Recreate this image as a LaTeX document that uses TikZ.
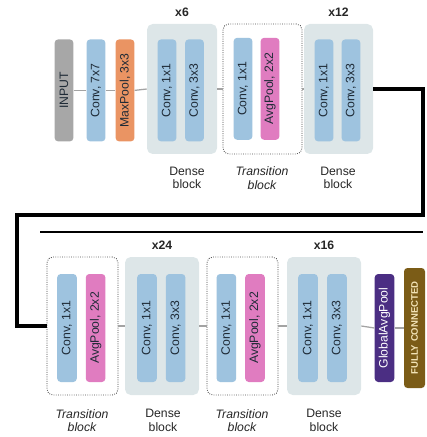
\documentclass[tikz,border=0pt]{standalone}
\usepackage{fontspec}
\setmainfont{Liberation Sans}
\usetikzlibrary{positioning}

\definecolor{convblue}{HTML}{9EC3DF}
\definecolor{inputgray}{HTML}{A7A7A7}
\definecolor{poolorange}{HTML}{EA9463}
\definecolor{avgpink}{HTML}{E07CC0}
\definecolor{densebg}{HTML}{DDE6E8}
\definecolor{gapurple}{HTML}{4B2E83}
\definecolor{fcolive}{HTML}{7B5C17}
\definecolor{fctext}{HTML}{F2E3B6}
\definecolor{labeldark}{HTML}{1E2A36}
\definecolor{linkgray}{HTML}{A3A3A3}

\begin{document}
\begin{tikzpicture}[
  font=\fontsize{8.7}{9.5}\selectfont,
  layer/.style={rounded corners=2.5pt,inner sep=0pt,minimum width=0.47cm,minimum height=2.55cm,text=labeldark},
  conv/.style={layer,fill=convblue},
  maxpool/.style={layer,fill=poolorange},
  avgpool/.style={layer,fill=avgpink},
  inputbox/.style={layer,fill=inputgray},
  denseblock/.style={fill=densebg,rounded corners=4pt,minimum width=1.75cm,minimum height=3.25cm},
  transblock/.style={draw=gray!60!black,densely dotted,line width=0.6pt,fill=white,rounded corners=4pt,minimum width=1.975cm,minimum height=3.25cm},
  repeat/.style={font=\fontsize{8.7}{9.5}\selectfont\bfseries,text=black!85},
  caption/.style={align=center,text=black!85},
  link/.style={draw=linkgray,line width=0.9pt},
  loopline/.style={draw=black,line width=2.2pt,line join=miter}
]
\useasboundingbox (0,0) rectangle (10.65,-10.925);

% first row
\node[inputbox] (input) at (1.6,-2.26) {\rotatebox{90}{INPUT}};
\node[conv] (conv7) at (2.4,-2.26) {\rotatebox{90}{Conv, 7x7}};
\node[maxpool] (maxp) at (3.125,-2.26) {\rotatebox{90}{MaxPool, 3x3}};

\node[denseblock] (dense6) at (4.55,-2.225) {};
\node[conv] at (4.175,-2.26) {\rotatebox{90}{Conv, 1x1}};
\node[conv] at (4.8625,-2.26) {\rotatebox{90}{Conv, 3x3}};

\node[transblock] (trans1) at (6.5625,-2.225) {};
\node[conv] at (6.075,-2.22) {\rotatebox{90}{Conv, 1x1}};
\node[avgpool] at (6.75,-2.22) {\rotatebox{90}{AvgPool, 2x2}};

\node[denseblock,minimum width=1.725cm] (dense12) at (8.4625,-2.225) {};
\node[conv] at (8.1,-2.26) {\rotatebox{90}{Conv, 1x1}};
\node[conv] at (8.775,-2.26) {\rotatebox{90}{Conv, 3x3}};

\node[repeat,above=0.05cm of dense6] (rep6) {x6};
\node[repeat,above=0.05cm of dense12] (rep12) {x12};
\node[caption] (cap1) at (4.675,-4.45) {Dense\\block};
\node[caption,font=\fontsize{8.7}{9.5}\selectfont\itshape] (cap2) at (6.55,-4.45) {Transition\\block};
\node[caption] (cap3) at (8.45,-4.45) {Dense\\block};

\foreach \a/\b in {input/conv7,conv7/maxp,maxp/dense6,dense6/trans1,trans1/dense12}
  \draw[link] (\a.east) -- (\b.west);

% second row
\begin{scope}[layer/.append style={minimum width=0.49cm,minimum height=2.7cm},
  denseblock/.append style={minimum width=1.85cm,minimum height=3.45cm},
  transblock/.append style={minimum width=1.775cm,minimum height=3.45cm}]
\node[transblock] (trans3) at (2.0625,-8.15) {};
\node[conv] at (1.675,-8.2) {\rotatebox{90}{Conv, 1x1}};
\node[avgpool] at (2.39,-8.2) {\rotatebox{90}{AvgPool, 2x2}};

\node[denseblock] (dense24) at (4.05,-8.15) {};
\node[conv] at (3.675,-8.2) {\rotatebox{90}{Conv, 1x1}};
\node[conv] at (4.39,-8.2) {\rotatebox{90}{Conv, 3x3}};

\node[transblock] (trans4) at (6.0625,-8.15) {};
\node[conv] at (5.66,-8.2) {\rotatebox{90}{Conv, 1x1}};
\node[avgpool] at (6.375,-8.2) {\rotatebox{90}{AvgPool, 2x2}};

\node[denseblock] (dense16) at (8.1,-8.15) {};
\node[conv] at (7.7,-8.2) {\rotatebox{90}{Conv, 1x1}};
\node[conv] at (8.425,-8.2) {\rotatebox{90}{Conv, 3x3}};

\node[layer,fill=gapurple,text=white] (gap) at (9.6125,-8.2) {\rotatebox{90}{GlobalAvgPool}};
\node[layer,fill=fcolive,text=fctext,minimum width=0.525cm,minimum height=3.0cm,
  font=\fontsize{6.8}{8}\selectfont\bfseries] (fc) at (10.3625,-8.2) {\rotatebox{90}{FULLY CONNECTED}};
\end{scope}

\node[repeat,above=0.05cm of dense24] (rep24) {x24};
\node[repeat,above=0.05cm of dense16] (rep16) {x16};
\node[caption,font=\fontsize{8.7}{9.5}\selectfont\itshape] (cap4) at (2.05,-10.51) {Transition\\block};
\node[caption] (cap5) at (4.075,-10.51) {Dense\\block};
\node[caption,font=\fontsize{8.7}{9.5}\selectfont\itshape] (cap6) at (6.05,-10.51) {Transition\\block};
\node[caption] (cap7) at (8.1,-10.51) {Dense\\block};

\foreach \a/\b in {trans3/dense24,dense24/trans4,trans4/dense16,dense16/gap,gap/fc}
  \draw[link] (\a.east) -- (\b.west);

% wrap from the first row down to the second
\coordinate (turnR) at (10.575,-5.375);
\coordinate (turnL) at (0.425,-5.375);
\draw[loopline] (dense12.east) -| (turnR) -- (turnL) |- (trans3.west);

\coordinate (sepL) at (1.0,-5.8);
\coordinate (sepR) at (10.575,-5.8);
\draw[line width=0.9pt] (sepL) -- (sepR);
\end{tikzpicture}
\end{document}
